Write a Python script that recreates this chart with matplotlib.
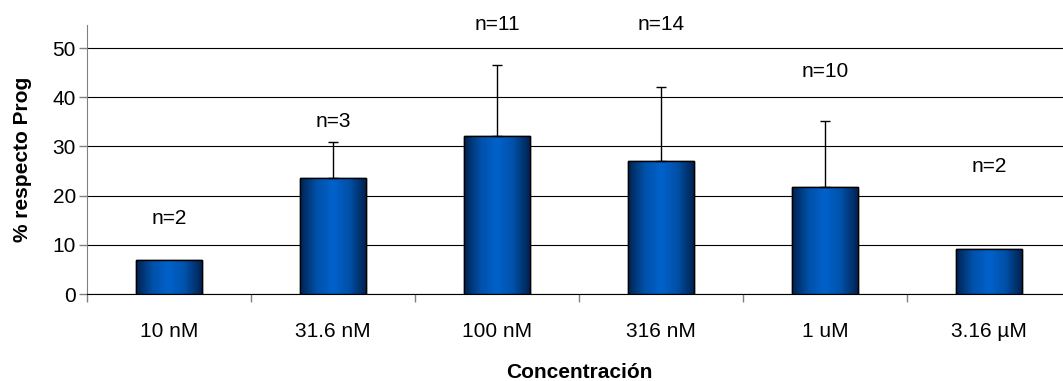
import matplotlib.pyplot as plt
import numpy as np
from matplotlib.colors import LinearSegmentedColormap

plt.rcParams['font.family'] = ['Liberation Sans', 'DejaVu Sans']

categories = ['10 nM', '31.6 nM', '100 nM', '316 nM', '1 uM', '3.16 µM']
values = [7.0, 23.6, 32.1, 27.0, 21.8, 9.2]
errors = [0.0, 7.4, 14.4, 15.1, 13.4, 0.0]
n_labels = ['n=2', 'n=3', 'n=11', 'n=14', 'n=10', 'n=2']
n_label_y = [15.4, 35.0, 54.9, 54.9, 45.3, 25.9]

fig = plt.figure(figsize=(10.63, 3.81), dpi=100)
ax = fig.add_axes([87 / 1063, 87 / 381, 984 / 1063, 269 / 381])

x = np.arange(len(categories))
bars = ax.bar(x, values, width=0.4, color='#0060c8', edgecolor='black',
              linewidth=1.0, zorder=3)

# horizontal gradient inside each bar
cmap = LinearSegmentedColormap.from_list(
    'barblue', ['#00224f', '#0050a8', '#0062cc', '#0050a8', '#00224f'])
grad = np.linspace(0, 1, 256).reshape(1, -1)
for b in bars:
    x0, y0, w, h = b.get_x(), b.get_y(), b.get_width(), b.get_height()
    im = ax.imshow(grad, cmap=cmap, aspect='auto', extent=[x0, x0 + w, y0, y0 + h],
                   zorder=3.5, interpolation='bilinear')
    im.set_clip_path(b)
    # edge on top
    ax.bar(b.get_x() + w / 2, h, width=w, fill=False, edgecolor='black',
           linewidth=1.0, zorder=4)

idx = [i for i in range(len(values)) if errors[i] > 0]
ax.errorbar(x[idx], [values[i] for i in idx],
            yerr=[[0] * len(idx), [errors[i] for i in idx]],
            fmt='none', ecolor='black', elinewidth=1.0, capsize=3.8,
            capthick=1.0, zorder=5)

for i, lab in enumerate(n_labels):
    ax.text(x[i], n_label_y[i], lab, ha='center', va='center', fontsize=15,
            clip_on=False)

ax.set_xlim(-0.5, len(categories) - 0.5)
ax.set_ylim(0, 54.7)
ax.set_yticks([0, 10, 20, 30, 40, 50])
ax.yaxis.grid(True, color='black', linewidth=0.8, zorder=0)
ax.set_axisbelow(True)

ax.set_xticks(x)
ax.set_xticklabels(categories, fontsize=15)
ax.set_xticks(np.arange(len(categories) + 1) - 0.5, minor=True)
ax.tick_params(axis='x', which='major', length=0, pad=20)
ax.tick_params(axis='x', which='minor', length=6, color='#808080', width=1)
ax.tick_params(axis='y', length=6, color='#808080', width=1, pad=2, labelsize=15)

for s in ['top', 'right']:
    ax.spines[s].set_visible(False)
ax.spines['left'].set_color('#808080')
ax.spines['bottom'].set_color('black')

ax.set_ylabel('% respecto Prog', fontsize=15, fontweight='bold', labelpad=15)
ax.set_xlabel('Concentración', fontsize=15, fontweight='bold', labelpad=16)

fig.savefig('out.png', dpi=100)
